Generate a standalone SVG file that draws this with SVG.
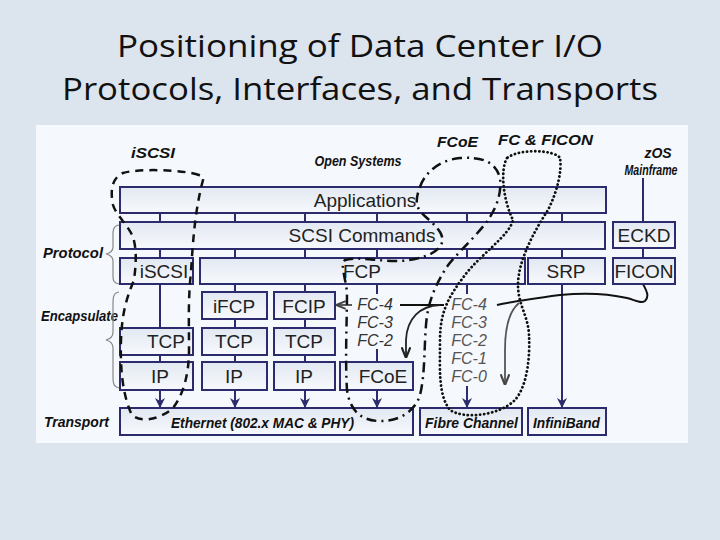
<svg xmlns="http://www.w3.org/2000/svg" width="720" height="540" viewBox="0 0 720 540">
<defs>
<linearGradient id="bg" x1="0" y1="0" x2="0" y2="1">
<stop offset="0" stop-color="#e2e8f2"/><stop offset="1" stop-color="#f7f9fc"/>
</linearGradient>
<marker id="ah" viewBox="0 0 10 10" refX="9" refY="5" markerWidth="5" markerHeight="5" orient="auto-start-reverse">
<path d="M0,0 L10,5 L0,10 L3,5 Z" fill="#2b2b6e"/>
</marker>
<marker id="ahg" viewBox="0 0 10 10" refX="9" refY="5" markerWidth="6" markerHeight="6" orient="auto-start-reverse">
<path d="M0,1 L10,5 L0,9" fill="none" stroke="#444" stroke-width="2"/>
</marker>
<marker id="ahk" viewBox="0 0 10 10" refX="9" refY="5" markerWidth="6" markerHeight="6" orient="auto-start-reverse">
<path d="M0,1 L10,5 L0,9" fill="none" stroke="#222" stroke-width="2"/>
</marker>
</defs>
<style>
.box{fill:url(#bg);stroke:#2b2b6e;stroke-width:2}
.bt{font-family:"Liberation Sans",Arial,sans-serif;font-size:19px;fill:#222;text-anchor:middle}
.lb{font-family:"Liberation Sans",Arial,sans-serif;font-size:15px;font-weight:bold;font-style:italic;fill:#111}
.lbc{font-family:"Liberation Sans",Arial,sans-serif;font-size:15px;font-weight:bold;font-style:italic;fill:#111;text-anchor:middle}
.fc{font-family:"Liberation Sans",Arial,sans-serif;font-size:16px;font-style:italic;text-anchor:middle}
.cn{stroke:#2b2b6e;stroke-width:2;fill:none}
.ttl{font-family:"Open Sans","Liberation Sans",sans-serif;font-size:31px;fill:#111;text-anchor:middle}
.brace{fill:none;stroke:#888;stroke-width:1.2}
</style>
<rect width="720" height="540" fill="#dce4ee"/>
<text class="ttl" x="360" y="57" textLength="486" lengthAdjust="spacingAndGlyphs">Positioning of Data Center I/O</text>
<text class="ttl" x="360" y="100" textLength="596" lengthAdjust="spacingAndGlyphs">Protocols, Interfaces, and Transports</text>
<rect x="36" y="125" width="652" height="318" fill="#f5f8fc"/>

<g id="labels">
<text class="lb" x="131" y="158" textLength="44" lengthAdjust="spacingAndGlyphs">iSCSI</text>
<text class="lbc" x="358" y="166" textLength="87" lengthAdjust="spacingAndGlyphs">Open Systems</text>
<text class="lb" x="437" y="147" textLength="41" lengthAdjust="spacingAndGlyphs">FCoE</text>
<text class="lb" x="498" y="145" textLength="95" lengthAdjust="spacingAndGlyphs">FC &amp; FICON</text>
<text class="lbc" x="658" y="158" style="font-size:14px">zOS</text>
<text class="lbc" x="651" y="175" style="font-size:14px" textLength="53" lengthAdjust="spacingAndGlyphs">Mainframe</text>
<text class="lb" x="43" y="258" textLength="60" lengthAdjust="spacingAndGlyphs">Protocol</text>
<text class="lb" x="41" y="321" style="font-size:14px" textLength="77" lengthAdjust="spacingAndGlyphs">Encapsulate</text>
<text class="lb" x="44" y="427" textLength="65" lengthAdjust="spacingAndGlyphs">Transport</text>
<path class="brace" d="M119,225 C112,226 113,232 113,240 L113,247 C113,251 110,253 106,254 C110,255 113,257 113,261 L113,276 C113,281 114,283 119,284"/>
<path class="brace" d="M119,292 C112,293 113,300 113,310 L113,332 C113,337 110,339 106,340 C110,341 113,343 113,348 L113,378 C113,384 114,387 119,388"/>
</g>

<g id="connectors">
<path class="cn" d="M160,213V222 M235,213V222 M305,213V222 M377,213V222 M467,213V222 M562,213V222"/>
<path class="cn" d="M160,249V258 M235,249V258 M305,249V258 M377,249V258 M467,249V258 M562,249V258"/>
<path class="cn" d="M160,284V328 M160,355V362 M235,284V292 M235,319V328 M235,355V362 M305,284V292 M305,319V328 M305,355V362 M377,284V294 M377,349V362 M467,284V294"/>
<path class="cn" d="M643,178V222 M643,248V258"/>
<path class="cn" marker-end="url(#ah)" d="M160,390V407"/>
<path class="cn" marker-end="url(#ah)" d="M235,390V407"/>
<path class="cn" marker-end="url(#ah)" d="M305,390V407"/>
<path class="cn" marker-end="url(#ah)" d="M377,390V407"/>
<path class="cn" stroke="#4a4a8a" marker-end="url(#ah)" d="M467,386V407"/>
<path class="cn" marker-end="url(#ah)" d="M562,284V407"/>
<path fill="none" stroke="#333" stroke-width="1.6" marker-end="url(#ahg)" d="M352,305H337"/>
<path fill="none" stroke="#111" stroke-width="1.8" d="M400,305H444"/>
<path fill="none" stroke="#222" stroke-width="1.8" marker-end="url(#ahk)" d="M440,305 C420,306 407,318 406,340 L406,357"/>
<path fill="none" stroke="#111" stroke-width="2" d="M497,305 C510,302 530,299 560,295 C580,293 605,293 627,298 C635,300 641,304 645,301 C650,296 646,290 643,284"/>
<path fill="none" stroke="#555" stroke-width="1.8" marker-end="url(#ahg)" d="M519,303 C508,312 505,330 505,350 L505,384"/>
</g>

<g id="applications"><rect class="box" x="120" y="187" width="486" height="26"/><text class="bt" x="365" y="207">Applications</text></g>
<g id="scsi"><rect class="box" x="120" y="222" width="485" height="27"/><text class="bt" x="362" y="242">SCSI Commands</text></g>
<g id="eckd"><rect class="box" x="613" y="222" width="62" height="26"/><text class="bt" x="644" y="242">ECKD</text></g>
<g id="iscsi"><rect class="box" x="120" y="258" width="73" height="26"/><text class="bt" x="164" y="278">iSCSI</text></g>
<g id="fcp"><rect class="box" x="200" y="258" width="325" height="26"/><text class="bt" x="362" y="278">FCP</text></g>
<g id="srp"><rect class="box" x="528" y="258" width="77" height="26"/><text class="bt" x="566" y="278">SRP</text></g>
<g id="ficon"><rect class="box" x="613" y="258" width="62" height="26"/><text class="bt" x="644" y="278">FICON</text></g>
<g id="ifcp"><rect class="box" x="202" y="292" width="65" height="27"/><text class="bt" x="234" y="313">iFCP</text></g>
<g id="fcip"><rect class="box" x="274" y="292" width="61" height="27"/><text class="bt" x="304" y="313">FCIP</text></g>
<g id="tcp1"><rect class="box" x="120" y="328" width="73" height="27"/><text class="bt" x="166" y="348">TCP</text></g>
<g id="tcp2"><rect class="box" x="202" y="328" width="65" height="27"/><text class="bt" x="234" y="348">TCP</text></g>
<g id="tcp3"><rect class="box" x="274" y="328" width="61" height="27"/><text class="bt" x="304" y="348">TCP</text></g>
<g id="ip1"><rect class="box" x="120" y="362" width="73" height="28"/><text class="bt" x="160" y="383">IP</text></g>
<g id="ip2"><rect class="box" x="202" y="362" width="65" height="28"/><text class="bt" x="234" y="383">IP</text></g>
<g id="ip3"><rect class="box" x="274" y="362" width="61" height="28"/><text class="bt" x="304" y="383">IP</text></g>
<g id="fcoe"><rect class="box" x="340" y="362" width="73" height="28"/><text class="bt" x="383" y="383">FCoE</text></g>
<g id="ethernet"><rect class="box" x="120" y="408" width="293" height="27"/><text class="lb" x="171" y="428" textLength="183" lengthAdjust="spacingAndGlyphs">Ethernet (802.x MAC &amp; PHY)</text></g>
<g id="fibre"><rect class="box" x="420" y="408" width="102" height="27"/><text class="lb" x="425" y="428" textLength="93" lengthAdjust="spacingAndGlyphs">Fibre Channel</text></g>
<g id="infiniband"><rect class="box" x="528" y="408" width="78" height="27"/><text class="lb" x="533" y="428" textLength="67" lengthAdjust="spacingAndGlyphs">InfiniBand</text></g>

<g id="fc-layers-left" class="fc" fill="#333">
<text x="375" y="310">FC-4</text><text x="375" y="328">FC-3</text><text x="375" y="346">FC-2</text>
</g>
<g id="fc-layers-right" class="fc" fill="#555">
<text x="469" y="310">FC-4</text><text x="469" y="328">FC-3</text><text x="469" y="346">FC-2</text><text x="469" y="364">FC-1</text><text x="469" y="382">FC-0</text>
</g>

<g id="outlines" fill="none" stroke="#111" stroke-width="2.5">
<path id="iscsi-outline" stroke-dasharray="8,6" d="M199,175 C185,170 140,168 123,173 C112,178 110,190 113,205 C116,215 128,225 133,237 C137,250 136,265 134,280 C128,295 122,310 121,340 C120,370 123,395 131,413 C137,424 160,420 173,408 C183,395 189,375 189,350 C189,320 188,300 191,272 C193,240 195,210 203,180 C204,176 202,176 199,175 Z"/>
<path id="fcoe-outline" stroke-dasharray="10,5,2,5" d="M420,187 C425,172 440,160 460,158 C480,157 495,160 500,178 C502,195 495,210 488,220 C475,238 455,255 446,268 C436,285 428,300 426,325 C424,350 425,375 420,395 C415,412 398,422 378,421 C360,420 350,410 347,390 C345,360 347,320 347,292 C345,275 340,265 345,260 C360,255 390,265 415,259 C435,255 448,245 440,232 C432,220 420,215 417,205 C416,198 418,192 420,187 Z"/>
<path id="fc-outline" stroke-dasharray="0.1,4" stroke-width="2.8" stroke-linecap="round" d="M507,158 C500,170 503,200 513,220 C510,235 480,255 465,275 C450,295 440,310 440,340 C440,370 438,395 450,410 C465,420 500,415 515,400 C528,385 530,355 529,335 C528,315 518,305 518,285 C518,260 535,230 548,210 C558,190 562,170 560,158 C555,150 520,148 507,158 Z"/>
</g>
</svg>
